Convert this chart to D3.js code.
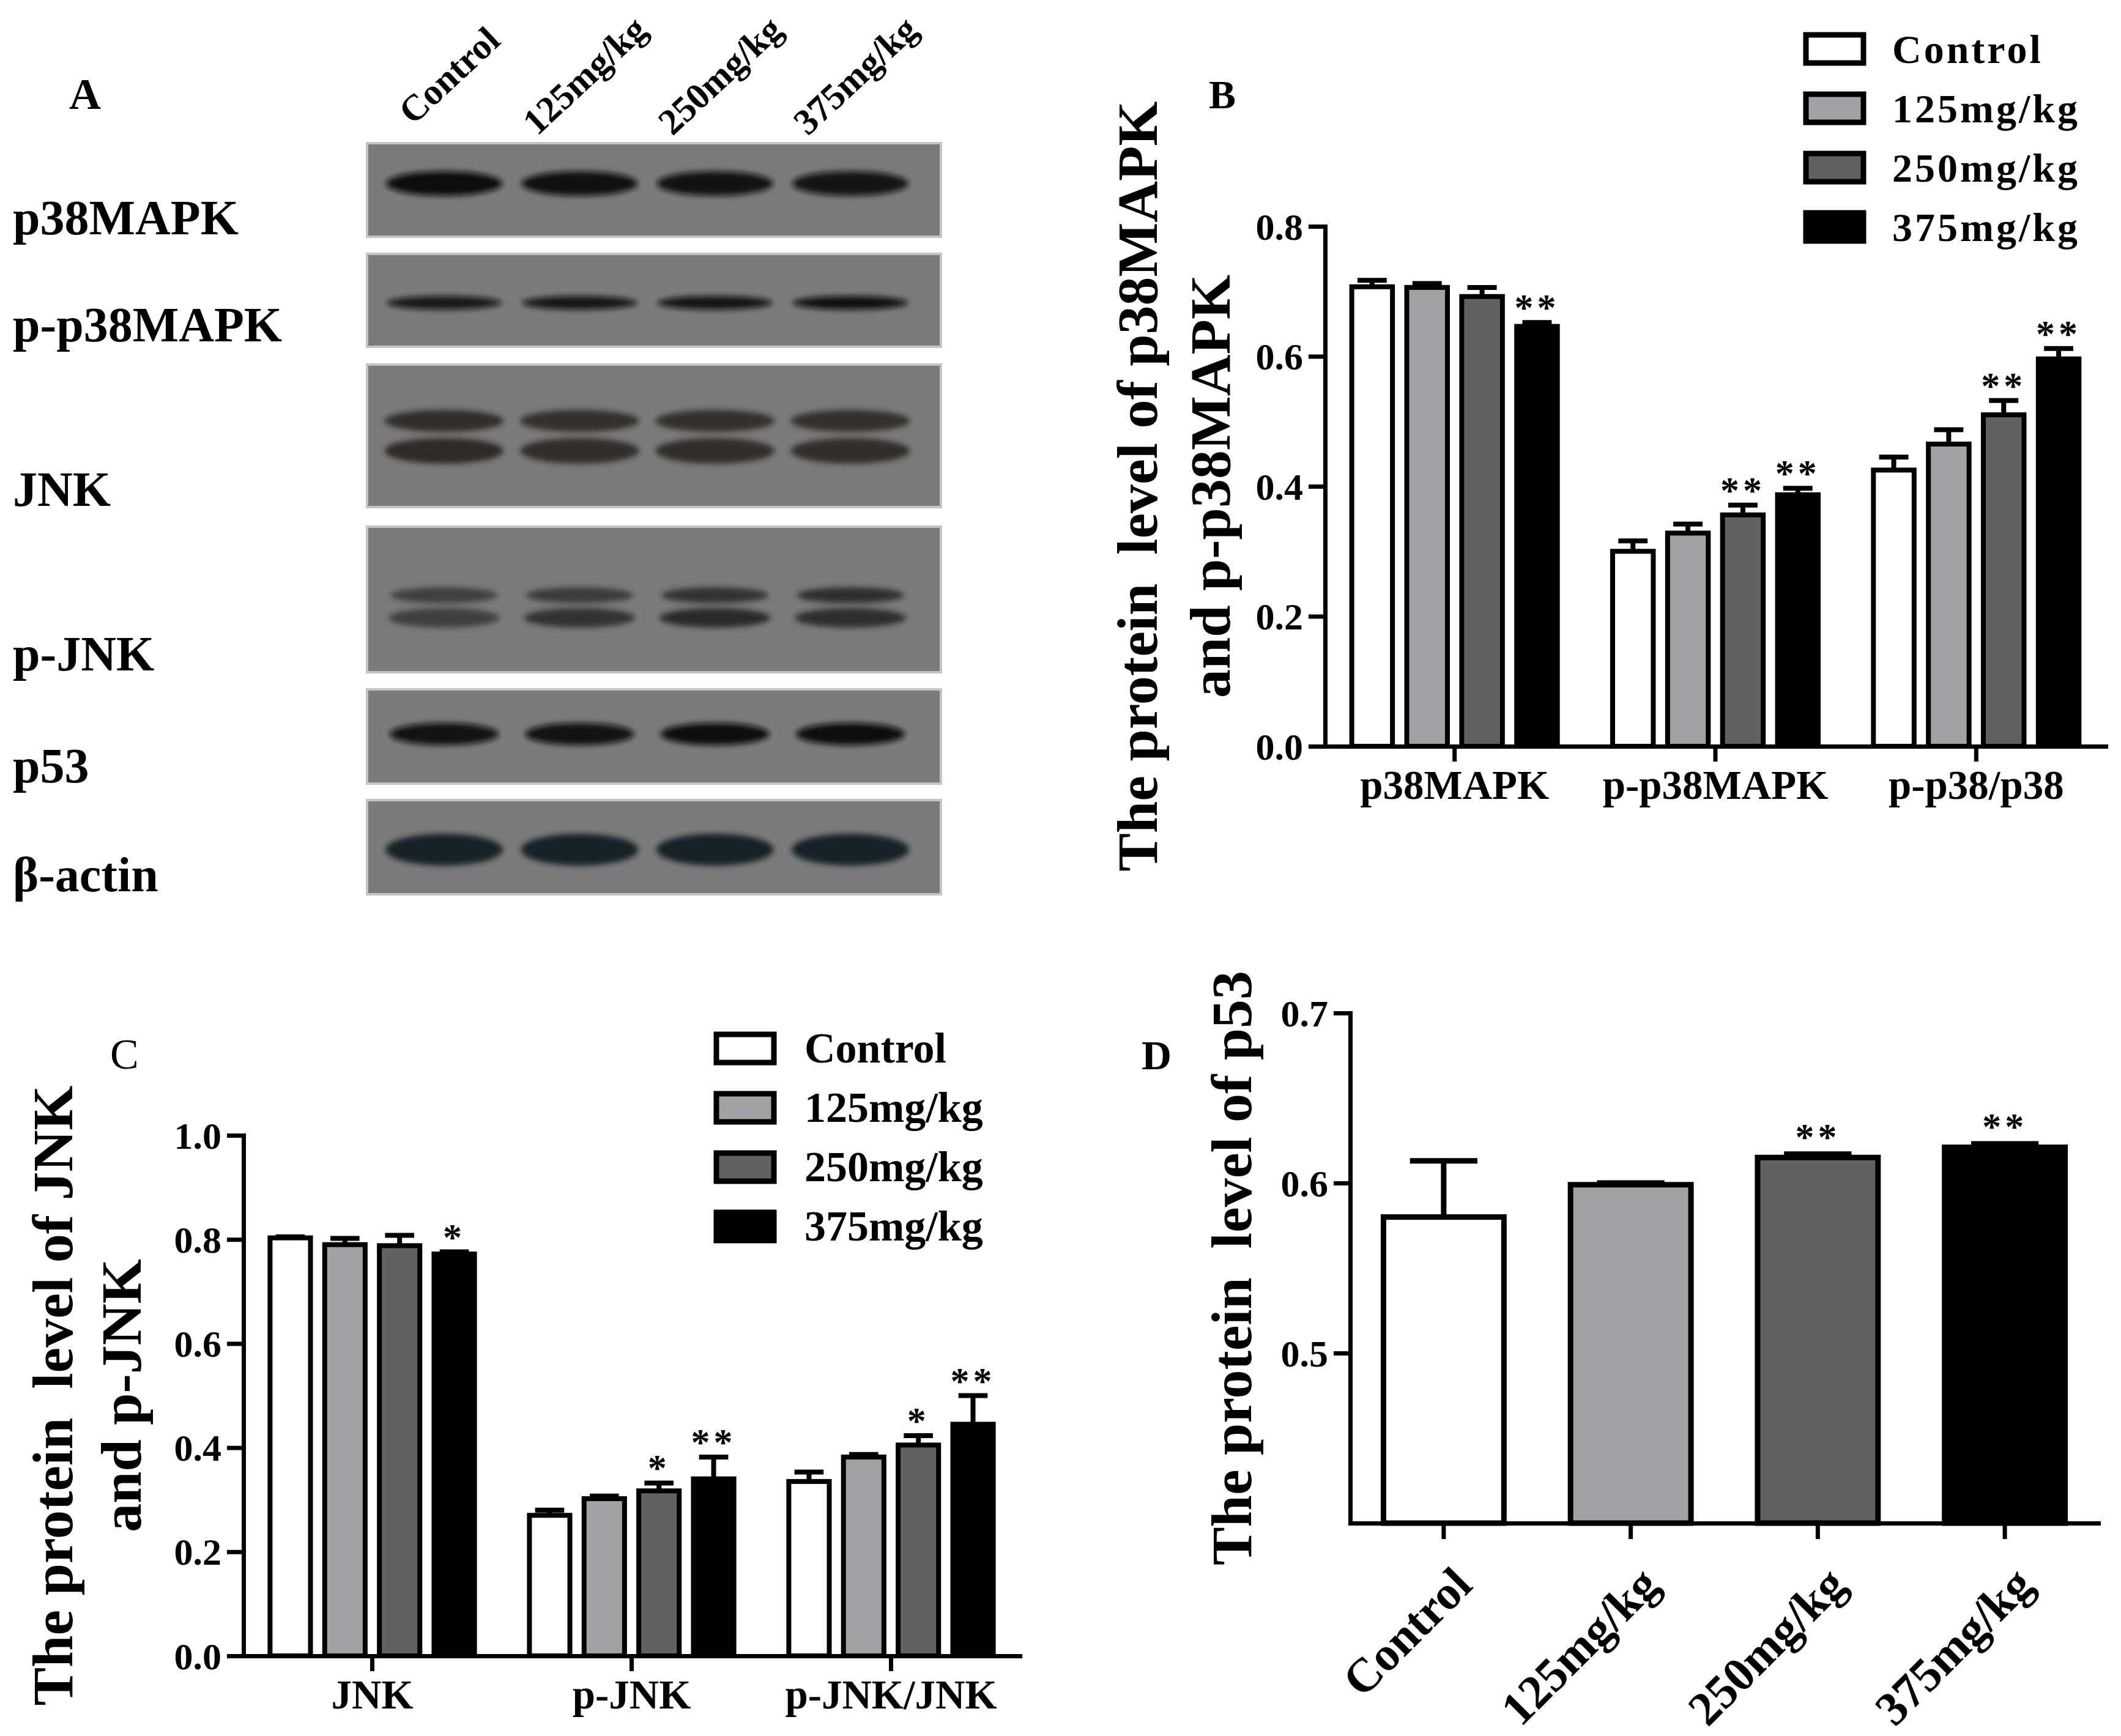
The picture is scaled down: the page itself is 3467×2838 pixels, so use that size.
<!DOCTYPE html>
<html>
<head>
<meta charset="utf-8">
<script src="https://cdn.jsdelivr.net/npm/d3@7"></script>
<style>
html, body { margin: 0; padding: 0; background: #fff; }
svg text { font-family: "Liberation Serif", "Times New Roman", serif; font-weight: bold; fill: #000; }
</style>
</head>
<body>
<svg id="fig" width="3467" height="2838"></svg>
<script>
// ---- data ----
var doseGroups = ["Control", "125mg/kg", "250mg/kg", "375mg/kg"];
var doseColors = ["#ffffff", "#a2a2a5", "#616161", "#000000"];

// panel A: blot rows and relative band darkness per lane
var blotRows = ["p38MAPK", "p-p38MAPK", "JNK", "p-JNK", "p53", "β-actin"];
var bandP38 = [1.0, 0.97, 0.95, 0.93];
var bandPP38 = [0.9, 0.92, 0.94, 0.98];
var bandJNKUp = [0.95, 0.92, 0.92, 0.92];
var bandJNKLow = [1.0, 0.95, 0.95, 0.95];
var bandPJNKUp = [0.7, 0.75, 0.85, 0.9];
var bandPJNKLow = [0.7, 0.85, 0.95, 0.9];
var bandP53 = [0.95, 0.95, 1.0, 1.0];
var bandActin = [1.0, 1.0, 1.0, 1.0];

// panel B
var bCategories = ["p38MAPK", "p-p38MAPK", "p-p38/p38"];
var bMeans = [[0.707, 0.706, 0.692, 0.646], [0.300, 0.328, 0.356, 0.387], [0.425, 0.465, 0.510, 0.596]];
var bErrors = [[0.010, 0.006, 0.014, 0.006], [0.016, 0.014, 0.015, 0.010], [0.020, 0.022, 0.022, 0.016]];
var bStars = [["", "", "", "**"], ["", "", "**", "**"], ["", "", "**", "**"]];
var bTicks = [0, 0.2, 0.4, 0.6, 0.8];

// panel C
var cCategories = ["JNK", "p-JNK", "p-JNK/JNK"];
var cMeans = [[0.803, 0.790, 0.788, 0.772], [0.270, 0.302, 0.317, 0.340], [0.335, 0.382, 0.405, 0.445]];
var cErrors = [[0.002, 0.012, 0.020, 0.004], [0.010, 0.005, 0.015, 0.042], [0.018, 0.005, 0.018, 0.055]];
var cStars = [["", "", "", "*"], ["", "", "*", "**"], ["", "", "*", "**"]];
var cTicks = [0, 0.2, 0.4, 0.6, 0.8, 1.0];

// panel D
var dMeans = [0.580, 0.599, 0.615, 0.621];
var dErrors = [0.033, 0.001, 0.002, 0.002];
var dStars = ["", "", "**", "**"];
var dTicks = [0.5, 0.6, 0.7];

var svg = d3.select("#fig");
svg.append("rect").attr("width", 3467).attr("height", 2838).attr("fill", "#fff");
svg.append("defs").append("filter").attr("id", "blur")
    .attr("x", "-20%").attr("y", "-80%").attr("width", "140%").attr("height", "260%")
    .append("feGaussianBlur").attr("stdDeviation", 5);

function label(x, y, s, size, extra) {
    var t = svg.append("text").attr("x", x).attr("y", y).attr("font-size", size).text(s);
    if (extra) extra(t);
    return t;
}

// ---------------- panel A : western blot ----------------
function drawBlot() {
    var lane = d3.scalePoint().domain(doseGroups).range([726, 1390]);
    var boxes = [
        { top: 234, h: 153, bands: [{ cy: 300, h: 40, w: 190, col: "#111111", v: bandP38 }] },
        { top: 415, h: 152, bands: [{ cy: 495, h: 22, w: 188, col: "#111111", v: bandPP38 }] },
        { top: 596, h: 233, bands: [{ cy: 688, h: 36, w: 195, col: "#2e2a27", v: bandJNKUp },
                                    { cy: 737, h: 42, w: 195, col: "#2e2a27", v: bandJNKLow }] },
        { top: 861, h: 238, bands: [{ cy: 973, h: 26, w: 175, col: "#262626", v: bandPJNKUp },
                                    { cy: 1010, h: 32, w: 182, col: "#262626", v: bandPJNKLow }] },
        { top: 1127, h: 154, bands: [{ cy: 1200, h: 36, w: 178, col: "#0c0c0c", v: bandP53 }] },
        { top: 1308, h: 154, bands: [{ cy: 1389, h: 52, w: 192, col: "#172326", v: bandActin }] }
    ];
    var labelBase = [383, 558, 827, 1096, 1279, 1457];
    var g = svg.append("g");
    boxes.forEach(function (b, i) {
        g.append("rect").attr("x", 600).attr("y", b.top).attr("width", 938).attr("height", b.h)
            .attr("fill", "#7b7b7b").attr("stroke", "#c4c4c4").attr("stroke-width", 4);
        b.bands.forEach(function (band) {
            g.selectAll(null).data(band.v).enter().append("ellipse")
                .attr("cx", function (d, k) { return lane(doseGroups[k]); })
                .attr("cy", band.cy)
                .attr("rx", band.w / 2)
                .attr("ry", band.h / 2)
                .attr("fill", band.col)
                .attr("opacity", function (d) { return d; })
                .attr("filter", "url(#blur)");
        });
        label(21, labelBase[i], blotRows[i], 80);
    });
    doseGroups.forEach(function (d) {
        label(0, 0, d, 60, function (t) {
            t.attr("text-anchor", "middle")
             .attr("transform", "translate(" + (lane(d) + 22) + ",138) rotate(-43)");
        });
    });
    label(113, 178, "A", 72);
}

// ---------------- grouped bar charts (B, C) ----------------
function groupedChart(o) {
    var y = d3.scaleLinear().domain(o.domain).range([o.bottom, o.top]);
    var x0 = d3.scaleBand().domain(o.categories).range([o.left, o.right])
        .paddingInner(0.157).paddingOuter(0.075);
    var x1 = d3.scaleBand().domain(doseGroups).range([0, x0.bandwidth()]);
    var barW = x1.bandwidth() * 0.74;
    var rows = [];
    o.categories.forEach(function (c, ci) {
        doseGroups.forEach(function (gname, gi) {
            rows.push({ cat: c, grp: gname, gi: gi, v: o.means[ci][gi], e: o.errors[ci][gi], star: o.stars[ci][gi] });
        });
    });
    var cx = function (d) { return x0(d.cat) + x1(d.grp) + x1.bandwidth() / 2; };
    var g = svg.append("g");
    // error bars (upper only)
    g.selectAll(".eb").data(rows).enter().append("line")
        .attr("x1", cx).attr("x2", cx)
        .attr("y1", function (d) { return y(d.v); })
        .attr("y2", function (d) { return y(d.v + d.e); })
        .attr("stroke", "#000").attr("stroke-width", 8);
    g.selectAll(".cap").data(rows).enter().append("line")
        .attr("x1", function (d) { return cx(d) - barW * 0.36; })
        .attr("x2", function (d) { return cx(d) + barW * 0.36; })
        .attr("y1", function (d) { return y(d.v + d.e); })
        .attr("y2", function (d) { return y(d.v + d.e); })
        .attr("stroke", "#000").attr("stroke-width", 8);
    g.selectAll(".bar").data(rows).enter().append("rect")
        .attr("x", function (d) { return cx(d) - barW / 2; })
        .attr("width", barW)
        .attr("y", function (d) { return y(d.v); })
        .attr("height", function (d) { return y(o.domain[0]) - y(d.v); })
        .attr("fill", function (d) { return doseColors[d.gi]; })
        .attr("stroke", "#000").attr("stroke-width", 8);
    g.selectAll(".star").data(rows.filter(function (d) { return d.star; })).enter().append("text")
        .attr("x", cx)
        .attr("y", function (d) { return y(d.v + d.e) - 4; })
        .attr("text-anchor", "middle")
        .attr("font-size", 62)
        .attr("letter-spacing", 6)
        .text(function (d) { return d.star; });

    var ya = svg.append("g").attr("transform", "translate(" + o.left + ",0)")
        .call(d3.axisLeft(y).tickValues(o.ticks).tickFormat(d3.format(".1f"))
            .tickSize(27).tickPadding(9).tickSizeOuter(0));
    var xa = svg.append("g").attr("transform", "translate(0," + o.bottom + ")")
        .call(d3.axisBottom(x0).tickSize(25).tickSizeOuter(0));
    [ya, xa].forEach(function (a) {
        a.attr("font-family", null).attr("font-size", null);
        a.select(".domain").attr("stroke-width", 7).attr("stroke-linecap", "square");
        a.selectAll(".tick line").attr("stroke-width", 7);
    });
    ya.selectAll("text").style("font-size", "62px").attr("dy", "0.34em");
    xa.selectAll("text").style("font-size", "67px").attr("y", 86).attr("dy", 0);

    // y title
    o.title.forEach(function (line, i) {
        label(0, 0, line, 94, function (t) {
            t.attr("text-anchor", "middle").style("white-space", "pre")
             .attr("transform", "translate(" + o.titleX[i] + "," + ((o.top + o.bottom) / 2) + ") rotate(-90)");
        });
    });
    // legend
    doseGroups.forEach(function (gname, i) {
        var yy = o.legY + i * o.legStep;
        svg.append("rect").attr("x", o.legX).attr("y", yy - 23).attr("width", 94).attr("height", 46)
            .attr("fill", doseColors[i]).attr("stroke", "#000").attr("stroke-width", 9);
        label(o.legTextX, yy + 23, gname, o.legFont, function (t) { t.attr("letter-spacing", o.legSpacing); });
    });
}

// ---------------- panel D ----------------
function simpleChart() {
    var y = d3.scaleLinear().domain([0.4, 0.7]).range([2490, 1656]);
    var x = d3.scaleBand().domain(doseGroups).range([2207, 3430]).paddingInner(0.356).paddingOuter(0.178);
    var rows = doseGroups.map(function (gname, i) {
        return { grp: gname, gi: i, v: dMeans[i], e: dErrors[i], star: dStars[i] };
    });
    var cx = function (d) { return x(d.grp) + x.bandwidth() / 2; };
    var capW = x.bandwidth() * 0.56;
    var g = svg.append("g");
    g.selectAll(".eb").data(rows).enter().append("line")
        .attr("x1", cx).attr("x2", cx)
        .attr("y1", function (d) { return y(d.v); })
        .attr("y2", function (d) { return y(d.v + d.e); })
        .attr("stroke", "#000").attr("stroke-width", 9);
    g.selectAll(".cap").data(rows).enter().append("line")
        .attr("x1", function (d) { return cx(d) - capW / 2; })
        .attr("x2", function (d) { return cx(d) + capW / 2; })
        .attr("y1", function (d) { return y(d.v + d.e); })
        .attr("y2", function (d) { return y(d.v + d.e); })
        .attr("stroke", "#000").attr("stroke-width", 9);
    g.selectAll(".bar").data(rows).enter().append("rect")
        .attr("x", function (d) { return x(d.grp); })
        .attr("width", x.bandwidth())
        .attr("y", function (d) { return y(d.v); })
        .attr("height", function (d) { return y(0.4) - y(d.v); })
        .attr("fill", function (d) { return doseColors[d.gi]; })
        .attr("stroke", "#000").attr("stroke-width", 9);
    g.selectAll(".star").data(rows.filter(function (d) { return d.star; })).enter().append("text")
        .attr("x", cx)
        .attr("y", function (d) { return y(d.v + d.e) - 8; })
        .attr("text-anchor", "middle")
        .attr("font-size", 62)
        .attr("letter-spacing", 6)
        .text(function (d) { return d.star; });

    var ya = svg.append("g").attr("transform", "translate(2207,0)")
        .call(d3.axisLeft(y).tickValues(dTicks).tickFormat(d3.format(".1f"))
            .tickSize(27).tickPadding(9).tickSizeOuter(0));
    var xa = svg.append("g").attr("transform", "translate(0,2490)")
        .call(d3.axisBottom(x).tickSize(26).tickSizeOuter(0));
    [ya, xa].forEach(function (a) {
        a.attr("font-family", null).attr("font-size", null);
        a.select(".domain").attr("stroke-width", 7).attr("stroke-linecap", "square");
        a.selectAll(".tick line").attr("stroke-width", 7);
    });
    ya.selectAll("text").style("font-size", "62px").attr("dy", "0.34em");
    xa.selectAll("text")
        .style("font-size", "78px")
        .attr("text-anchor", "end")
        .attr("y", 0).attr("dy", 0)
        .attr("transform", "translate(50,105) rotate(-45)");

    label(0, 0, "The protein  level of p53", 94, function (t) {
        t.attr("text-anchor", "middle").style("white-space", "pre")
         .attr("transform", "translate(2045,2073) rotate(-90)");
    });
}

drawBlot();

groupedChart({
    categories: bCategories, means: bMeans, errors: bErrors, stars: bStars, ticks: bTicks,
    domain: [0, 0.8], top: 370, bottom: 1220, left: 2166, right: 3442,
    title: ["The protein  level of p38MAPK", "and p-p38MAPK"], titleX: [1891, 2010],
    legX: 2952, legY: 80, legStep: 97, legTextX: 3093, legFont: 66, legSpacing: 4
});
label(1976, 177, "B", 66);

groupedChart({
    categories: cCategories, means: cMeans, errors: cErrors, stars: cStars, ticks: cTicks,
    domain: [0, 1.0], top: 1856, bottom: 2707, left: 398, right: 1667,
    title: ["The protein  level of JNK", "and p-JNK"], titleX: [118, 230],
    legX: 1171, legY: 1714, legStep: 97, legTextX: 1315, legFont: 70, legSpacing: 0
});
label(180, 1747, "C", 70, function (t) { t.style("font-weight", "normal"); });

simpleChart();
label(1866, 1748, "D", 68);
</script>
</body>
</html>
